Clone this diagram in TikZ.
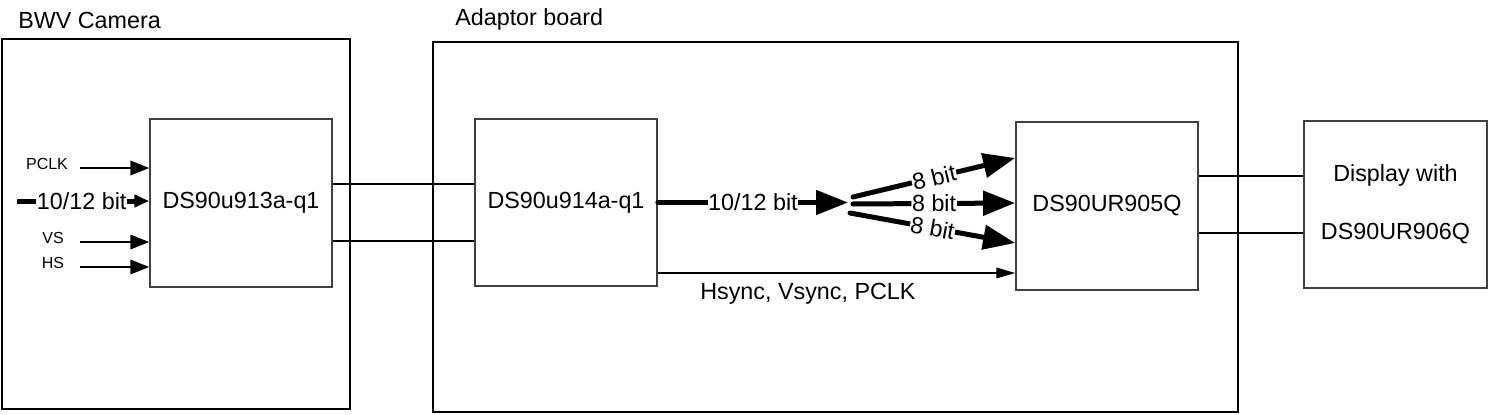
\documentclass[tikz,border=0pt]{standalone}
\usepackage{fontspec}
\setmainfont{Liberation Sans}
\usetikzlibrary{arrows.meta}

\tikzset{	PixGrid/.style={x=0.75pt,y=-0.75pt},
	BoardBox/.style={draw=black,line width=1pt,inner sep=0pt},
	ChipBox/.style={draw=chipGray,line width=1.3pt,minimum width=136.5pt,
				inner sep=0pt,font=\BigFont},
	SigArrow/.style={-{Triangle[length=14pt,width=11pt]},line width=0.8pt},
	BusLine/.style={line width=3.75pt},
	BusArrow/.style={BusLine,-{Triangle[length=24pt,width=18pt]}},
	BusLabel/.style={fill=white,inner sep=0.5pt,font=\BigFont}
	}
\definecolor{chipGray}{rgb}{0.25,0.25,0.25}
\newcommand{\BigFont}{\fontsize{17.5}{21}\selectfont}
\newcommand{\SmallFont}{\fontsize{12}{14}\selectfont}

\begin{document}
\begin{tikzpicture}[>=latex,PixGrid]
	\useasboundingbox (0,0) rectangle (1488,414);

	% boards
	\node[BoardBox,minimum width=261pt,minimum height=277.5pt] (cam) at (176,224) {};
	\node[BoardBox,minimum width=603.75pt,minimum height=277.5pt] (adp) at (835.5,227) {};
	\node[anchor=base west,inner sep=0pt,font=\BigFont] (camName) at (18,28) {BWV Camera};
	\node[anchor=base west,inner sep=0pt,font=\BigFont] (adpName) at (455,26) {Adaptor board};

	% chips
	\node[ChipBox,minimum height=126pt] (ser) at (241,203) {DS90u913a-q1};
	\node[ChipBox,minimum height=125.25pt] (des) at (566,202.5) {DS90u914a-q1};
	\node[ChipBox,minimum height=126pt] (rx) at (1107,206) {DS90UR905Q};
	\node[ChipBox,minimum width=137.25pt,minimum height=125.25pt,align=center] (disp)
		at (1395.5,204.5) {Display with\\[22.5pt]DS90UR906Q};

	% camera inputs
	\foreach \sig/\ty/\tx in {PCLK/168/47,VS/242/53,HS/267/53}{
		\node[font=\SmallFont,inner sep=0pt] (lbl\sig) at (\tx,\ty-4) {\sig};
		\coordinate (in\sig) at (80,\ty);
		\draw[SigArrow] (in\sig) -- (ser.west |- in\sig);
	}
	\coordinate (camBus) at (17,201);
	\draw[BusLine,-{Triangle[length=11pt,width=9pt]}] (camBus) -- (ser.west |- camBus)
		node[BusLabel,pos=0.49] (camBusLbl) {10/12 bit};

	% links between the boards
	\foreach \ly in {184,241}
		\draw[line width=0.8pt] (ser.east |- 0,\ly) -- (des.west |- 0,\ly);
	\foreach \ly in {176,233}
		\draw[line width=0.8pt] (rx.east |- 0,\ly) -- (disp.west |- 0,\ly);

	% bus on the adaptor board
	\coordinate (fanIn) at (848,202.5);
	\draw[BusArrow,line cap=round] (des.east) -- (fanIn)
		node[BusLabel,pos=0.5] (busLbl) {10/12 bit};
	\coordinate (fanA) at (853,197);
	\coordinate (fanB) at (853,204);
	\coordinate (fanC) at (850,213);
	\foreach \st/\ty/\nm in {fanA/158/A,fanB/203/B,fanC/243/C}
		\draw[BusArrow,line cap=round] (\st) -- (rx.west |- 0,\ty)
			node[BusLabel,sloped,pos=0.5] (bit\nm) {8 bit};

	% sync signals
	\draw[SigArrow,-{Triangle[length=14pt,width=8pt]}] (des.east |- 0,273) -- (rx.west |- 0,273)
		node[pos=0.42,below=4pt,font=\BigFont] (syncLbl) {Hsync, Vsync, PCLK};
\end{tikzpicture}
\end{document}
